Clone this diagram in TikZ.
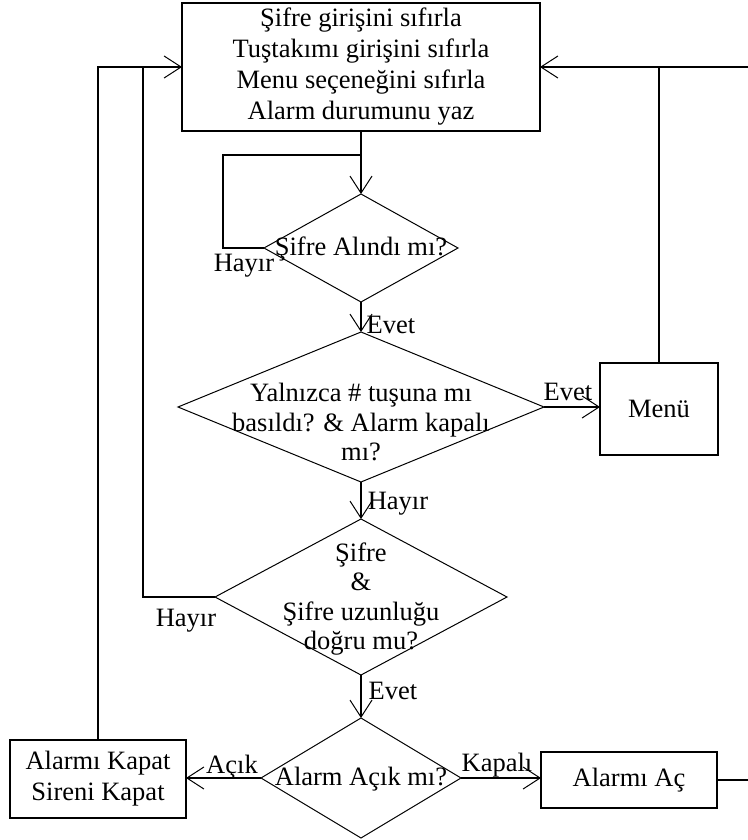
\documentclass[tikz,border=0pt]{standalone}
\usepackage{fontspec}
\setmainfont{Liberation Serif}
\usetikzlibrary{shapes.geometric,arrows.meta}

\begin{document}
\begin{tikzpicture}[x=1pt,y=-1pt,
  line width=1.3pt,
  every node/.style={font=\fontsize{26.5}{31}\selectfont},
  box/.style={draw, rectangle, line width=1.5pt, inner sep=0pt, outer sep=0pt, align=center},
  dia/.style={draw, diamond, line width=1pt, inner sep=0pt, outer sep=0pt},
  txt/.style={align=center, inner sep=0pt, font=\fontsize{26.5}{29.5}\selectfont},
  lbl/.style={inner sep=0pt},
  flow/.style={-{Straight Barb[length=17pt,width=22pt,line width=1pt]}},
]
\useasboundingbox (0,0) rectangle (747,840);

% process boxes
\node[box, minimum width=358pt, minimum height=128pt] (reset) at (361,67)
  {Şifre girişini sıfırla\\Tuştakımı girişini sıfırla\\Menu seçeneğini sıfırla\\Alarm durumunu yaz};
\node[box, minimum width=118pt, minimum height=92pt] (menu) at (659,409) {Menü};
\node[box, minimum width=176pt, minimum height=78pt] (kapat) at (98,779) {Alarmı Kapat\\Sireni Kapat};
\node[box, minimum width=176pt, minimum height=56pt] (ac) at (629,780) {Alarmı Aç};

% decisions
\node[dia, minimum width=194pt, minimum height=108pt] (d1) at (361,248) {};
\node[txt] (d1t) at (361,249) {Şifre Alındı mı?};
\node[dia, minimum width=366pt, minimum height=150pt] (d2) at (361,407) {};
\node[txt] (d2t) at (361,422) {Yalnızca \# tuşuna mı\\basıldı? \& Alarm kapalı\\mı?};
\node[dia, minimum width=292pt, minimum height=156pt] (d3) at (361,597) {};
\node[txt] (d3t) at (361,599) {Şifre\\\&\\Şifre uzunluğu\\doğru mu?};
\node[dia, minimum width=200pt, minimum height=120pt] (d4) at (361,778) {};
\node[txt] (d4t) at (361,779) {Alarm Açık mı?};

% main flow
\draw[flow] (reset.south) -- (d1.north);
\draw[flow] (d1.south) -- (d2.north);
\draw[flow] (d2.south) -- (d3.north);
\draw[flow] (d3.south) -- (d4.north);
\draw[flow] (d2.east) -- (d2.east -| menu.west);
\draw[flow] (d4.west) -- (d4.west -| kapat.east);
\draw[flow] (d4.east) -- (d4.east -| ac.west);

% waiting loop on the first decision
\coordinate (jloop) at (361,155);
\draw (d1.west) -- ++(-41,0) |- (jloop);

% return paths to the reset box
\coordinate (jin) at (143,67);
\draw[flow] (kapat.north) |- (reset.west);
\draw (d3.west) -| (jin);
\coordinate (rside) at (752,67);
\draw[flow] (ac.east) -- (ac.east -| rside) -- (rside) -- (reset.east);
\draw (menu.north) -- (menu.north |- reset.east);

% branch labels
\node[lbl] (l1) at (244,266) {Hayır};
\node[lbl] (l2) at (391,325) {Evet};
\node[lbl] (l3) at (568,392) {Evet};
\node[lbl] (l4) at (398,504) {Hayır};
\node[lbl] (l5) at (186,621) {Hayır};
\node[lbl] (l6) at (393,691) {Evet};
\node[lbl] (l7) at (232,767) {Açık};
\node[lbl] (l8) at (497,765) {Kapalı};
\end{tikzpicture}
\end{document}
